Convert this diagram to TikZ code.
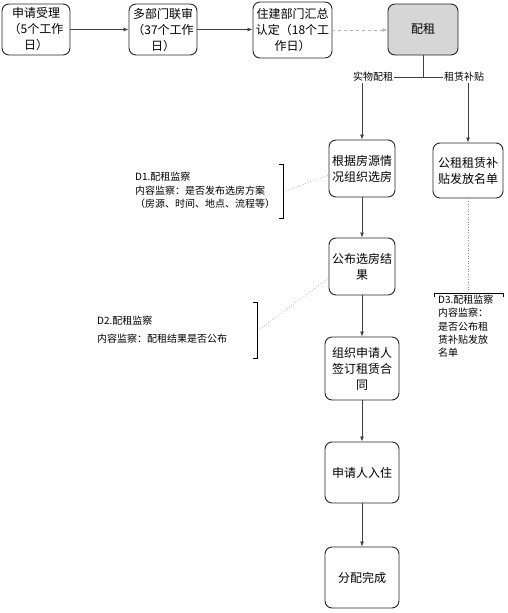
\documentclass[tikz,border=0pt]{standalone}
\usepackage{fontspec}
\setmainfont{Noto Sans CJK SC}
\usetikzlibrary{arrows.meta}
\definecolor{boxgray}{HTML}{D6D6D6}
\tikzset{
  flow/.style 2 args={draw=black!85, line width=0.9pt, rounded corners=7pt, fill=white,
                      align=center, inner sep=1pt, minimum width=#1, minimum height=#2,
                      font=\fontsize{12}{16}\selectfont},
  conn/.style={draw=black!75, line width=0.8pt, -{Latex[length=5pt,width=4pt]}},
  plain/.style={draw=black!75, line width=0.8pt},
  dashconn/.style={draw=black!30, line width=1pt, dashed, -{Latex[open,length=5pt,width=4pt]}},
  watch/.style={draw=black!45, line width=0.6pt, dotted},
  brack/.style={draw=black, line width=0.8pt},
  note/.style={align=left, inner sep=0pt, font=\fontsize{10}{#1}\selectfont},
  note/.default=13.5,
  tag/.style={fill=white, inner sep=1pt, font=\fontsize{10}{12}\selectfont},
}
\begin{document}
\begin{tikzpicture}[x=1pt, y=-1pt]
  \useasboundingbox (0,0) rectangle (507,613);
  % top row
  \node[flow={68pt}{51pt}] (apply) at (36,29.5) {申请受理\\（5个工作\\日）};
  \node[flow={68pt}{51pt}] (review) at (163,29.5) {多部门联审\\（37个工作\\日）};
  \node[flow={79pt}{56pt}] (confirm) at (292.5,30) {住建部门汇总\\认定（18个工\\作日）};
  \node[flow={70pt}{51pt}, fill=boxgray] (peizu) at (423,29.5) {配租};
  \draw[conn] (apply.east) -- (review.west);
  \draw[conn] (review.east) -- (review.east -| confirm.west);
  \draw[dashconn] (confirm.east) -- (confirm.east -| peizu.west);
  % two branches
  \coordinate (split) at (423,77);
  \node[flow={66pt}{57pt}] (choose) at (362,168.5) {根据房源情\\况组织选房};
  \node[flow={70pt}{55pt}] (subsidy) at (468,170.5) {公租租赁补\\贴发放名单};
  \draw[plain] (peizu.south) -- (split);
  \draw[conn] (split) -| (choose.north);
  \draw[conn] (split) -| (subsidy.north);
  \node[tag] (tagreal) at (373,77) {实物配租};
  \node[tag] (tagsub) at (464,77) {租赁补贴};
  % main column
  \node[flow={66pt}{57pt}] (publish) at (362,266.5) {公布选房结\\果};
  \node[flow={74pt}{63pt}] (sign) at (362,368.5) {组织申请人\\签订租赁合\\同};
  \node[flow={74pt}{61pt}] (movein) at (362,472.5) {申请人入住};
  \node[flow={74pt}{61pt}] (done) at (362,577.5) {分配完成};
  \draw[conn] (choose) -- (publish);
  \draw[conn] (publish) -- (sign);
  \draw[conn] (sign) -- (movein);
  \draw[conn] (movein) -- (done);
  % supervision notes
  \draw[brack] (279,164) -- (283,164) -- (283,218) -- (279,218);
  \coordinate (d1m) at (286,191);
  \node[note, anchor=west] (d1) at (135,190.5) {D1.配租监察\\内容监察：是否发布选房方案\\（房源、时间、地点、流程等）};
  \draw[watch] (d1m) -- (choose.191);
  \draw[brack] (253,302) -- (257,302) -- (257,358) -- (253,358);
  \coordinate (d2m) at (260,329);
  \node[note=17.5, anchor=west] (d2) at (97,329.5) {D2.配租监察\\内容监察：配租结果是否公布};
  \draw[watch] (d2m) -- (publish.199);
  \draw[brack] (434,297) -- (434,293) -- (503,293) -- (503,297);
  \coordinate (d3m) at (468,292);
  \node[note=13.2, anchor=north west] (d3) at (438,295) {D3.配租监察\\内容监察：\\是否公布租\\赁补贴发放\\名单};
  \draw[watch] (subsidy.south) -- (d3m);
\end{tikzpicture}
\end{document}
